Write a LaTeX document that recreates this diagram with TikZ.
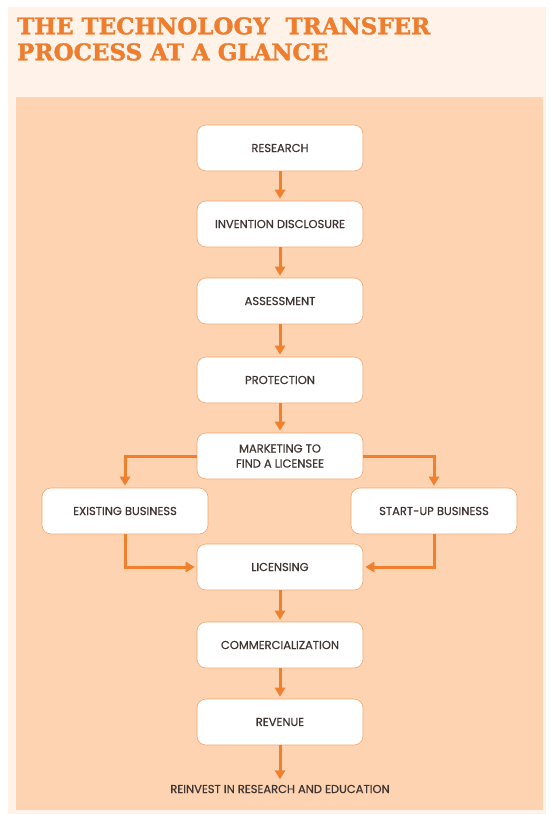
\documentclass[tikz,border=0pt]{standalone}
\usepackage{fontspec}
\usepackage{xcolor}
\usepackage{tikz}
\usetikzlibrary{
  arrows.meta,
  positioning
}
\newfontfamily\boxfont[FakeBold=0.6]{Poppins}
\newfontfamily\titlefont[FakeBold=1.6]{DejaVu Serif Bold}

\definecolor{pagelight}{HTML}{FEF2E9}
\definecolor{panelpeach}{HTML}{FDD3B1}
\definecolor{arrorange}{HTML}{F07F2E}
\definecolor{titleorange}{HTML}{EE7E2E}
\definecolor{boxline}{HTML}{F2A56E}
\definecolor{boxtext}{HTML}{3F3533}

\tikzset{
  stepbox/.style={draw=boxline, fill=white, rounded corners=9pt, line width=0.6pt,
    minimum width=166pt, minimum height=46pt, align=center, text=boxtext,
    font=\boxfont\fontsize{11.5}{15}\selectfont},
  flow/.style={draw=arrorange, line width=3pt, -{Triangle[width=10pt,length=9pt]},
    shorten >=2pt}
}

\begin{document}
\begin{tikzpicture}[x=1pt, y=-1pt]
  \useasboundingbox (0,0) rectangle (550,814);
  % backgrounds
  \fill[pagelight] (8,7) rectangle (546,814);
  \fill[panelpeach] (16,97) rectangle (543,810);
  % title
  \node[anchor=north west, align=left, inner sep=0pt, text=titleorange,
    font=\titlefont\fontsize{23}{26}\selectfont] (title) at (17,17)
    {THE TECHNOLOGY\ \ TRANSFER\\PROCESS AT A GLANCE};

  % main column
  \node[stepbox] (research) at (280,148) {RESEARCH};
  \node[stepbox] (disclosure) at (280,224) {INVENTION DISCLOSURE};
  \node[stepbox] (assessment) at (280,301) {ASSESSMENT};
  \node[stepbox] (protection) at (280,380) {PROTECTION};
  \node[stepbox] (marketing) at (280,456) {MARKETING TO\\FIND A LICENSEE};
  \node[stepbox] (existing) at (125,511) {EXISTING BUSINESS};
  \node[stepbox] (startup) at (434,511) {START-UP BUSINESS};
  \node[stepbox] (licensing) at (280,567) {LICENSING};
  \node[stepbox] (commercial) at (280,645) {COMMERCIALIZATION};
  \node[stepbox] (revenue) at (280,722) {REVENUE};
  \node[text=boxtext, font=\boxfont\fontsize{11.5}{15}\selectfont] (reinvest) at (280,789)
    {REINVEST IN RESEARCH AND EDUCATION};

  % connectors
  \draw[flow] (research) -- (disclosure);
  \draw[flow] (disclosure) -- (assessment);
  \draw[flow] (assessment) -- (protection);
  \draw[flow] (protection) -- (marketing);
  \draw[flow] (marketing.west) -| (existing.north);
  \draw[flow] (marketing.east) -| (startup.north);
  \draw[flow] (existing.south) |- (licensing.west);
  \draw[flow] (startup.south) |- (licensing.east);
  \draw[flow] (licensing) -- (commercial);
  \draw[flow] (commercial) -- (revenue);
  \draw[flow] (revenue) -- (reinvest);
\end{tikzpicture}
\end{document}
